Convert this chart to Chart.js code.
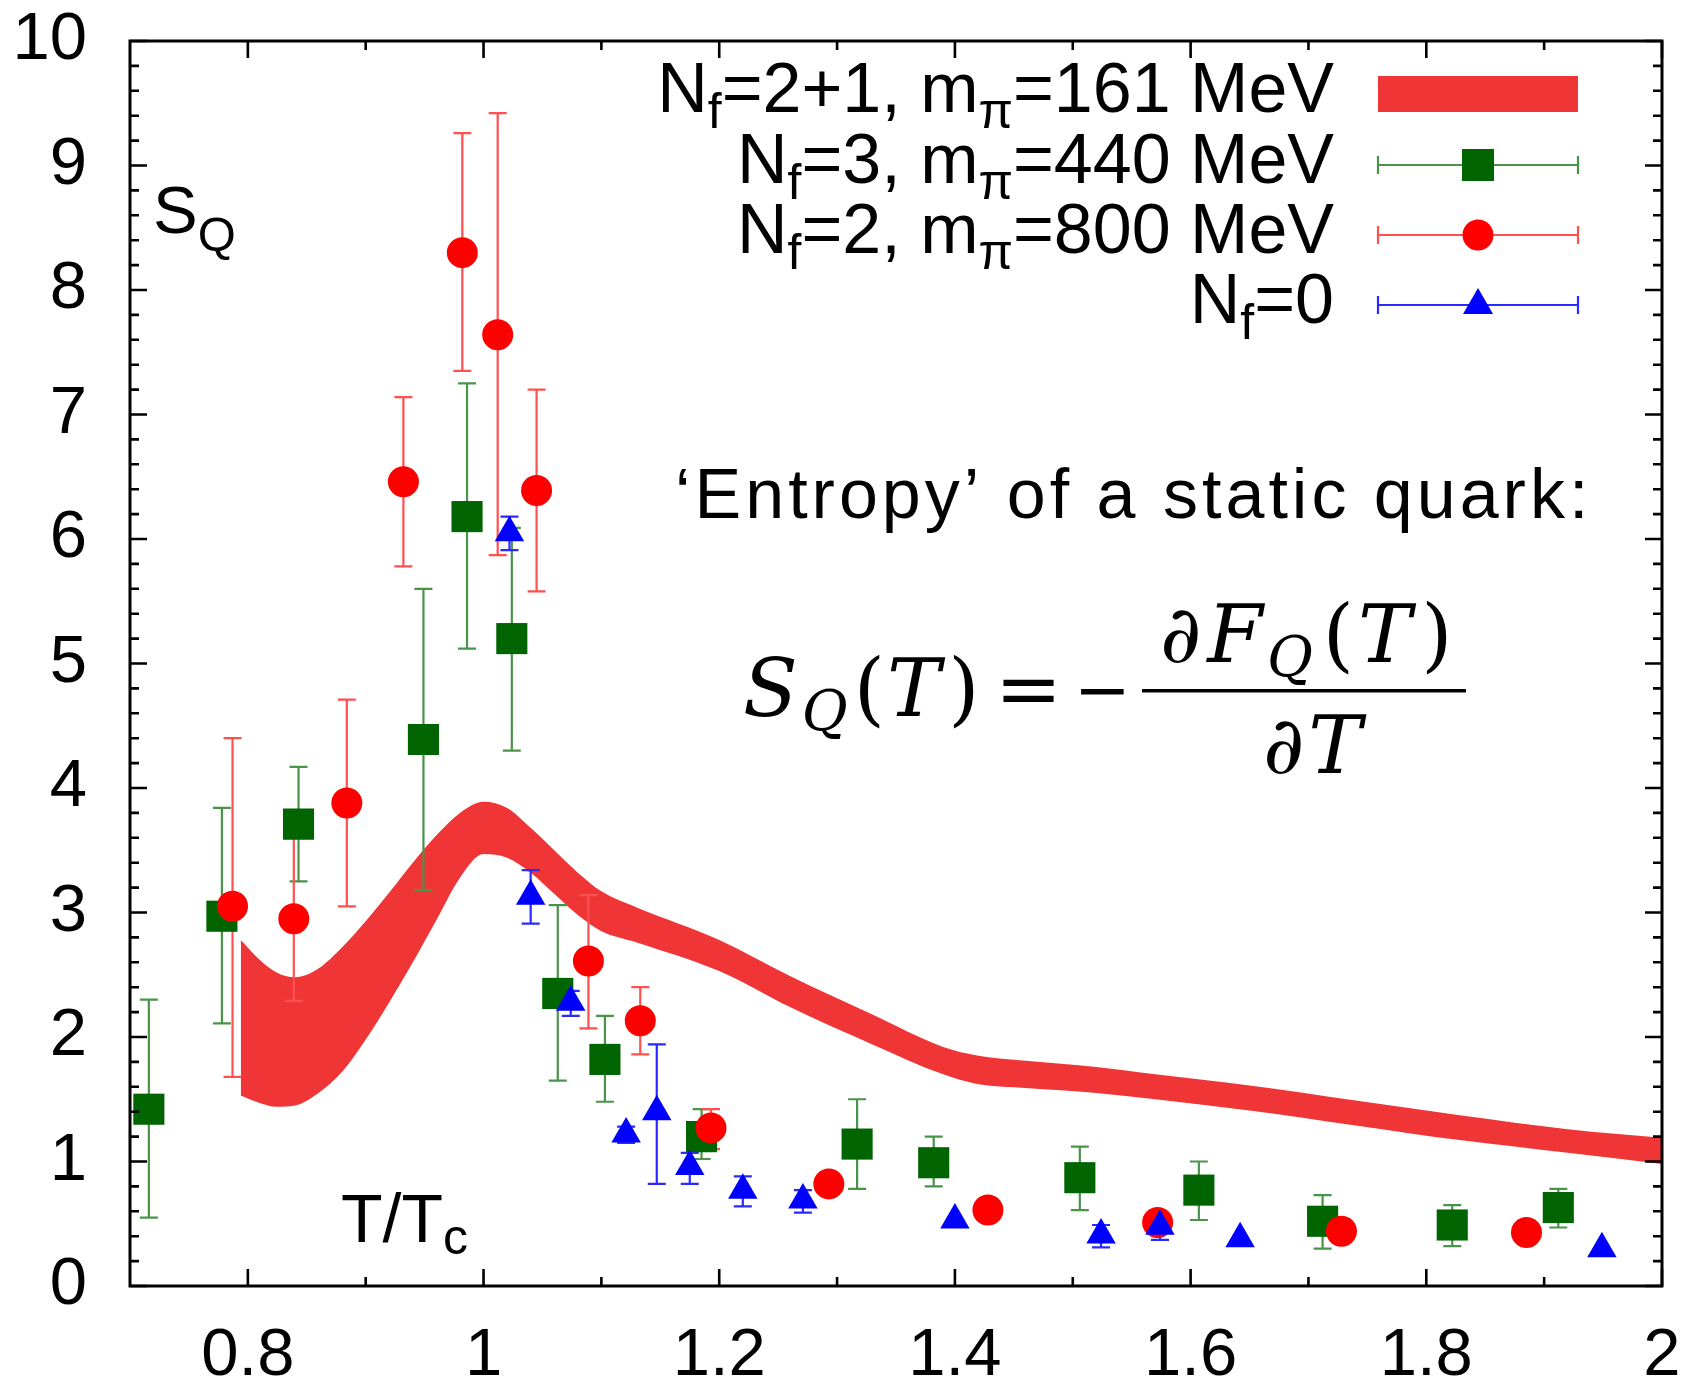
<!DOCTYPE html>
<html>
<head>
<meta charset="utf-8">
<title>Entropy of a static quark</title>
<script src="https://cdn.jsdelivr.net/npm/chart.js@4.4.1/dist/chart.umd.min.js"></script>
<style>
  html, body { margin: 0; padding: 0; background: #fff; }
  #wrap { width: 1693px; height: 1386px; }
</style>
</head>
<body>
<div id="wrap"><canvas id="chart" width="1693" height="1386"></canvas></div>
<script>
// axis ticks
const xTicks = [0.8, 1.0, 1.2, 1.4, 1.6, 1.8, 2.0];
const xMinor = [0.9, 1.1, 1.3, 1.5, 1.7, 1.9];
const yTicks = [0, 1, 2, 3, 4, 5, 6, 7, 8, 9, 10];

// Nf=2+1, m_pi=161 MeV band (lower / upper edge)
const bandT    = [0.794, 0.81, 0.824, 0.84, 0.86, 0.88, 0.90, 0.92, 0.94, 0.96, 0.98, 1.00, 1.02, 1.04, 1.06, 1.08, 1.10, 1.13, 1.20, 1.26, 1.33, 1.39, 1.42, 1.46, 1.52, 1.57, 1.65, 1.74, 1.83, 1.92, 2.00];
const bandHigh = [2.78, 2.62, 2.52, 2.48, 2.55, 2.72, 2.93, 3.16, 3.40, 3.62, 3.80, 3.89, 3.84, 3.68, 3.50, 3.32, 3.17, 3.04, 2.78, 2.49, 2.18, 1.92, 1.85, 1.81, 1.76, 1.70, 1.61, 1.49, 1.37, 1.26, 1.19];
const bandLow  = [1.53, 1.47, 1.44, 1.45, 1.55, 1.72, 1.98, 2.28, 2.60, 2.94, 3.28, 3.47, 3.44, 3.32, 3.15, 2.98, 2.85, 2.76, 2.53, 2.24, 1.94, 1.70, 1.62, 1.59, 1.55, 1.50, 1.41, 1.29, 1.17, 1.07, 0.98];

// Nf=3, m_pi=440 MeV
const nf3T  = [0.716, 0.778, 0.843, 0.949, 0.986, 1.024, 1.063, 1.103, 1.185, 1.317, 1.382, 1.506, 1.607, 1.712, 1.822, 1.912];
const nf3S  = [1.42, 2.97, 3.71, 4.39, 6.18, 5.20, 2.35, 1.82, 1.20, 1.14, 0.99, 0.87, 0.77, 0.52, 0.49, 0.63];
const nf3Lo = [0.55, 2.11, 3.25, 3.18, 5.12, 4.30, 1.65, 1.48, 1.02, 0.78, 0.80, 0.61, 0.53, 0.30, 0.32, 0.47];
const nf3Hi = [2.30, 3.84, 4.17, 5.60, 7.25, 6.09, 3.06, 2.17, 1.42, 1.50, 1.20, 1.12, 1.00, 0.73, 0.65, 0.78];

// Nf=2, m_pi=800 MeV
const nf2T  = [0.787, 0.839, 0.884, 0.932, 0.982, 1.012, 1.045, 1.089, 1.133, 1.193, 1.293, 1.428, 1.572, 1.728, 1.885];
const nf2S  = [3.05, 2.95, 3.88, 6.46, 8.30, 7.64, 6.39, 2.61, 2.13, 1.27, 0.82, 0.61, 0.51, 0.44, 0.43];
const nf2Lo = [1.68, 2.29, 3.05, 5.78, 7.35, 5.87, 5.58, 2.07, 1.86, 1.10, 0.82, 0.61, 0.51, 0.44, 0.43];
const nf2Hi = [4.40, 3.61, 4.71, 7.14, 9.26, 9.42, 7.20, 3.14, 2.40, 1.42, 0.82, 0.61, 0.51, 0.44, 0.43];

// Nf=0
const nf0T  = [1.022, 1.040, 1.074, 1.121, 1.147, 1.175, 1.220, 1.271, 1.400, 1.524, 1.574, 1.642, 1.949];
const nf0S  = [6.05, 3.13, 2.28, 1.22, 1.40, 0.96, 0.77, 0.69, 0.53, 0.41, 0.48, 0.38, 0.30];
const nf0Lo = [5.91, 2.91, 2.17, 1.15, 0.82, 0.82, 0.64, 0.59, 0.53, 0.31, 0.37, 0.38, 0.30];
const nf0Hi = [6.18, 3.34, 2.37, 1.28, 1.94, 1.07, 0.88, 0.77, 0.53, 0.49, 0.57, 0.38, 0.30];

const BAND = '#f03536';
const SANS = '"Liberation Sans", Arial, Helvetica, sans-serif';
const SERIF = '"DejaVu Serif", "Liberation Serif", serif';

const pts = (xs, ys) => xs.map((x, i) => ({ x: x, y: ys[i] }));

// error bar sets, same order as the marker datasets
const errSets = [
  { t: nf3T, lo: nf3Lo, hi: nf3Hi, color: '#4a944a' },
  { t: nf2T, lo: nf2Lo, hi: nf2Hi, color: '#ff5050' },
  { t: nf0T, lo: nf0Lo, hi: nf0Hi, color: '#2a2aff' }
];

function drawErrorBars(chart) {
  const ctx = chart.ctx, xs = chart.scales.x, ys = chart.scales.y;
  ctx.save();
  ctx.lineWidth = 2.2;
  errSets.forEach(s => {
    ctx.strokeStyle = s.color;
    s.t.forEach((t, i) => {
      if (s.hi[i] - s.lo[i] < 0.02) return;
      const px = xs.getPixelForValue(t);
      const y1 = ys.getPixelForValue(s.lo[i]);
      const y2 = ys.getPixelForValue(s.hi[i]);
      ctx.beginPath();
      ctx.moveTo(px, y1); ctx.lineTo(px, y2);
      ctx.moveTo(px - 9, y1); ctx.lineTo(px + 9, y1);
      ctx.moveTo(px - 9, y2); ctx.lineTo(px + 9, y2);
      ctx.stroke();
    });
  });
  ctx.restore();
}

// draw text pieces in a row; sub pieces are smaller and lower
function drawRun(ctx, parts, x, y, align) {
  let w = 0;
  parts.forEach(p => { ctx.font = p.font; w += ctx.measureText(p.t).width + (p.gap || 0); });
  let cx = align === 'right' ? x - w : x;
  ctx.textAlign = 'left';
  ctx.textBaseline = 'alphabetic';
  parts.forEach(p => {
    ctx.font = p.font;
    ctx.fillText(p.t, cx, y + (p.dy || 0));
    cx += ctx.measureText(p.t).width + (p.gap || 0);
  });
}

function legendText(parts) {
  return parts.map(p => typeof p === 'string'
    ? { t: p, font: '70px ' + SANS }
    : { t: p.s, font: '50px ' + SANS, dy: 16 });
}

const legendRows = [
  ['N', { s: 'f' }, '=2+1, m', { s: 'π' }, '=161 MeV'],
  ['N', { s: 'f' }, '=3, m', { s: 'π' }, '=440 MeV'],
  ['N', { s: 'f' }, '=2, m', { s: 'π' }, '=800 MeV'],
  ['N', { s: 'f' }, '=0']
];
const legendY = [94, 165, 235, 305];

function drawLegend(ctx) {
  const x1 = 1378, x2 = 1578, xm = 1478;
  legendRows.forEach((row, i) => {
    ctx.fillStyle = '#000';
    drawRun(ctx, legendText(row), 1334, legendY[i] + 18, 'right');
  });
  ctx.fillStyle = BAND;
  ctx.fillRect(x1, 76, x2 - x1, 36);
  const cols = [['#4a944a', '#006400'], ['#ff5050', '#ff0000'], ['#2a2aff', '#0000ff']];
  [1, 2, 3].forEach((r, k) => {
    const y = legendY[r];
    ctx.strokeStyle = cols[k][0];
    ctx.lineWidth = 2.2;
    ctx.beginPath();
    ctx.moveTo(x1, y); ctx.lineTo(x2, y);
    ctx.moveTo(x1, y - 9); ctx.lineTo(x1, y + 9);
    ctx.moveTo(x2, y - 9); ctx.lineTo(x2, y + 9);
    ctx.stroke();
    ctx.fillStyle = cols[k][1];
    ctx.beginPath();
    if (k === 0) ctx.rect(xm - 16, y - 16, 32, 32);
    else if (k === 1) ctx.arc(xm, y, 15.5, 0, Math.PI * 2);
    else { ctx.moveTo(xm, y - 17); ctx.lineTo(xm + 15, y + 9); ctx.lineTo(xm - 15, y + 9); ctx.closePath(); }
    ctx.fill();
  });
}

function drawNotes(ctx) {
  ctx.fillStyle = '#000';
  // axis names inside the frame
  drawRun(ctx, [{ t: 'S', font: '67px ' + SANS }, { t: 'Q', font: '49px ' + SANS, dy: 18 }], 153, 233, 'left');
  drawRun(ctx, [{ t: 'T/T', font: '68px ' + SANS }, { t: 'c', font: '50px ' + SANS, dy: 12 }], 341, 1242, 'left');

  ctx.save();
  ctx.letterSpacing = '4px';
  ctx.font = '70px ' + SANS;
  ctx.textAlign = 'left';
  ctx.fillText('\u2018Entropy\u2019 of a static quark:', 675, 518);
  ctx.restore();

  // S_Q(T) = - dF_Q(T)/dT
  const it = 'italic 80px ' + SERIF, up = '80px ' + SERIF, sub = 'italic 56px ' + SERIF;
  drawRun(ctx, [
    { t: 'S', font: it, gap: 4 }, { t: 'Q', font: sub, dy: 14, gap: 6 },
    { t: '(', font: up, gap: 2 }, { t: 'T', font: it, gap: 8 }, { t: ')', font: up }
  ], 743, 716, 'left');
  drawRun(ctx, [{ t: '=', font: up }], 995, 716, 'left');
  drawRun(ctx, [{ t: '\u2212', font: '68px ' + SERIF }], 1074, 713, 'left');
  ctx.fillRect(1142, 689, 324, 3.5);
  drawRun(ctx, [
    { t: '\u2202', font: it, gap: 6 }, { t: 'F', font: it, gap: 4 }, { t: 'Q', font: sub, dy: 14, gap: 10 },
    { t: '(', font: up, gap: 4 }, { t: 'T', font: it, gap: 10 }, { t: ')', font: up }
  ], 1160, 662, 'left');
  drawRun(ctx, [{ t: '\u2202', font: it, gap: 4 }, { t: 'T', font: it }], 1263, 773, 'left');
}

const framePlugin = {
  id: 'framePlugin',
  afterDatasetDraw(chart, args) {
    if (args.index === 3) drawErrorBars(chart);
  },
  afterDatasetsDraw(chart) {
    const ctx = chart.ctx, a = chart.chartArea;
    const xs = chart.scales.x, ys = chart.scales.y;
    ctx.save();
    ctx.strokeStyle = '#000';
    ctx.lineWidth = 3;
    ctx.strokeRect(a.left, a.top, a.right - a.left, a.bottom - a.top);
    ctx.lineWidth = 2.6;
    ctx.beginPath();
    const xt = (v, len) => {
      const p = xs.getPixelForValue(v);
      ctx.moveTo(p, a.bottom); ctx.lineTo(p, a.bottom - len);
      ctx.moveTo(p, a.top); ctx.lineTo(p, a.top + len);
    };
    const yt = (v, len) => {
      const p = ys.getPixelForValue(v);
      ctx.moveTo(a.left, p); ctx.lineTo(a.left + len, p);
      ctx.moveTo(a.right, p); ctx.lineTo(a.right - len, p);
    };
    xTicks.forEach(v => xt(v, 17));
    xMinor.forEach(v => xt(v, 9));
    yTicks.forEach(v => yt(v, 17));
    for (let v = 0.2; v < 10; v += 0.2) {
      if (Math.abs(v - Math.round(v)) > 0.01) yt(v, 9);
    }
    ctx.stroke();
    ctx.restore();
  },
  afterDraw(chart) {
    const ctx = chart.ctx;
    ctx.save();
    drawLegend(ctx);
    drawNotes(ctx);
    ctx.restore();
  }
};

const ctx = document.getElementById('chart').getContext('2d');
new Chart(ctx, {
  type: 'scatter',
  data: {
    datasets: [
      { label: 'Nf=0', data: pts(nf0T, nf0S), pointStyle: 'triangle', pointRadius: 17, pointHoverRadius: 17,
        backgroundColor: '#0000ff', borderWidth: 0, order: 0 },
      { label: 'Nf=2, mπ=800 MeV', data: pts(nf2T, nf2S), pointStyle: 'circle', pointRadius: 15.5, pointHoverRadius: 15.5,
        backgroundColor: '#ff0000', borderWidth: 0, order: 0 },
      { label: 'Nf=3, mπ=440 MeV', data: pts(nf3T, nf3S), pointStyle: 'rect', pointRadius: 22, pointHoverRadius: 22,
        backgroundColor: '#006400', borderWidth: 0, order: 0 },
      { type: 'line', label: 'band high', data: pts(bandT, bandHigh), showLine: true, fill: false,
        borderColor: 'rgba(0,0,0,0)', borderWidth: 1, pointRadius: 0, cubicInterpolationMode: 'monotone', order: 1 },
      { type: 'line', label: 'Nf=2+1, mπ=161 MeV', data: pts(bandT, bandLow), showLine: true, fill: '-1',
        backgroundColor: BAND, borderColor: 'rgba(0,0,0,0)', borderWidth: 1, pointRadius: 0,
        cubicInterpolationMode: 'monotone', order: 1 }
    ]
  },
  options: {
    responsive: false,
    devicePixelRatio: 1,
    animation: false,
    layout: { padding: { top: 41, right: 31, left: 0, bottom: 0 } },
    plugins: { legend: { display: false }, tooltip: { enabled: false } },
    scales: {
      x: {
        type: 'linear', min: 0.7, max: 2.0,
        grid: { display: false }, border: { display: false },
        ticks: { color: '#000', font: { family: SANS, size: 67 }, padding: 22,
          callback: v => String(Math.round(v * 10) / 10) },
        afterBuildTicks: s => { s.ticks = xTicks.map(v => ({ value: v })); },
        afterFit: s => { s.height = 100; s.paddingLeft = 0; s.paddingRight = 0; }
      },
      y: {
        type: 'linear', min: 0, max: 10,
        grid: { display: false }, border: { display: false },
        ticks: { color: '#000', font: { family: SANS, size: 67 }, padding: 35 },
        afterBuildTicks: s => { s.ticks = yTicks.map(v => ({ value: v })); },
        afterFit: s => { s.width = 130; s.paddingTop = 0; s.paddingBottom = 0; }
      }
    }
  },
  plugins: [framePlugin]
});
</script>
</body>
</html>
